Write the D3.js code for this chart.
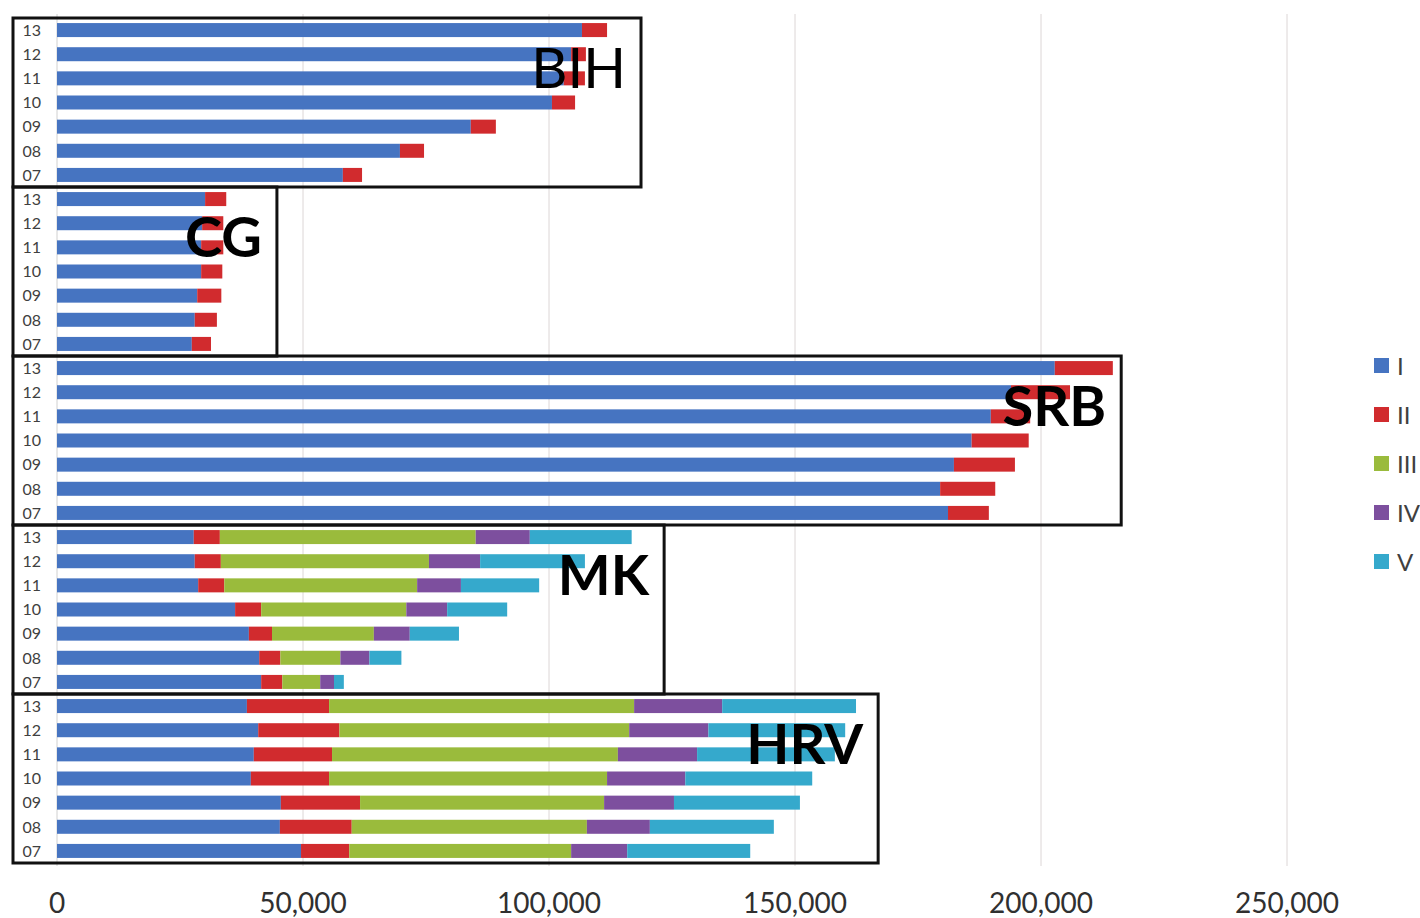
<!DOCTYPE html>
<html>
<head>
<meta charset="utf-8">
<script src="https://cdn.jsdelivr.net/npm/d3@7"></script>
<style>
  body { margin: 0; background: #fff; }
  svg { display: block; font-family: Lato, "Open Sans", sans-serif; }
</style>
</head>
<body>
<div id="chart"></div>
<script>
// data (rows go country by country, years 13 -> 07)
const countries = ["BIH", "CG", "SRB", "MK", "HRV"];
const years = ["13", "12", "11", "10", "09", "08", "07"];
const seriesNames = ["I", "II", "III", "IV", "V"];
const xTicks = [0, 50000, 100000, 150000, 200000, 250000];

const seriesI = [
  106700, 104500, 103000, 100600, 84100, 69700, 58100,   // BIH
  30100, 29500, 29300, 29300, 28500, 28000, 27400,       // CG
  202800, 193900, 189800, 185900, 182300, 179500, 181100, // SRB
  27800, 28000, 28700, 36200, 39000, 41100, 41500,       // MK
  38600, 40900, 40000, 39400, 45500, 45300, 49600        // HRV
];
const seriesII = [
  5100, 3000, 4300, 4700, 5100, 4900, 3900,
  4300, 4300, 4500, 4300, 4900, 4500, 3900,
  11800, 12000, 8000, 11600, 12400, 11200, 8300,
  5300, 5300, 5300, 5300, 4700, 4300, 4300,
  16700, 16500, 15900, 15900, 16100, 14600, 9800
];
const seriesIII = [
  0, 0, 0, 0, 0, 0, 0,
  0, 0, 0, 0, 0, 0, 0,
  0, 0, 0, 0, 0, 0, 0,
  52000, 42300, 39200, 29500, 20700, 12200, 7700,
  62000, 58900, 58100, 56500, 49600, 47800, 45100
];
const seriesIV = [
  0, 0, 0, 0, 0, 0, 0,
  0, 0, 0, 0, 0, 0, 0,
  0, 0, 0, 0, 0, 0, 0,
  11000, 10400, 8900, 8300, 7300, 5900, 2800,
  17900, 16100, 16100, 15900, 14200, 12800, 11400
];
const seriesV = [
  0, 0, 0, 0, 0, 0, 0,
  0, 0, 0, 0, 0, 0, 0,
  0, 0, 0, 0, 0, 0, 0,
  20700, 21300, 15900, 12200, 10000, 6500, 2000,
  27200, 27800, 28000, 25800, 25600, 25200, 25000
];
// how far each country's annotation box reaches on the x axis
const boxExtent = [118700, 44700, 216300, 123400, 166900];

const colors = ["#4674c1", "#d12b2e", "#9abb3c", "#7d4f9e", "#35a9cc"];

const width = 1420, height = 918;
const plotTop = 18, plotBottom = 863;

const svg = d3.select("#chart").append("svg")
  .attr("width", width)
  .attr("height", height);

// build rows
const allSeries = [seriesI, seriesII, seriesIII, seriesIV, seriesV];
const rows = [];
countries.forEach((c, ci) => {
  years.forEach((yr, yi) => {
    const idx = ci * years.length + yi;
    const row = {id: c + "-" + yr, country: c, year: yr};
    seriesNames.forEach((s, si) => { row[s] = allSeries[si][idx]; });
    rows.push(row);
  });
});

const x = d3.scaleLinear()
  .domain([0, 250000])
  .range([57, 1287]);

const y = d3.scaleBand()
  .domain(rows.map(d => d.id))
  .range([plotTop, plotBottom])
  .paddingInner(0.42)
  .paddingOuter(0.21);

const color = d3.scaleOrdinal().domain(seriesNames).range(colors);

// grid lines
svg.append("g")
  .selectAll("line")
  .data(xTicks.slice(1))
  .enter().append("line")
  .attr("x1", d => x(d)).attr("x2", d => x(d))
  .attr("y1", 14).attr("y2", 866)
  .attr("stroke", "#dcd6d6")
  .attr("stroke-width", 1);

svg.append("line")
  .attr("x1", x(0)).attr("x2", x(0))
  .attr("y1", 14).attr("y2", 866)
  .attr("stroke", "#d0d0d0");

// stacked bars
const stack = d3.stack().keys(seriesNames);
svg.append("g")
  .selectAll("g")
  .data(stack(rows))
  .enter().append("g")
  .attr("fill", d => color(d.key))
  .selectAll("rect")
  .data(d => d.filter(p => p[1] > p[0]))
  .enter().append("rect")
  .attr("x", d => x(d[0]))
  .attr("y", d => y(d.data.id))
  .attr("width", d => x(d[1]) - x(d[0]))
  .attr("height", y.bandwidth());

// year labels
svg.append("g")
  .selectAll("text")
  .data(rows)
  .enter().append("text")
  .attr("x", 41)
  .attr("y", d => y(d.id) + y.bandwidth() / 2)
  .attr("dy", "0.36em")
  .attr("text-anchor", "end")
  .attr("font-size", 16)
  .attr("fill", "#404040")
  .text(d => d.year);

// country boxes and labels
const step = y.step();
const boxes = svg.append("g");
countries.forEach((c, ci) => {
  const first = rows[ci * years.length].id;
  const top = y(first) - (step - y.bandwidth()) / 2;
  const bottom = top + step * years.length;
  boxes.append("rect")
    .attr("x", 13)
    .attr("y", top)
    .attr("width", x(boxExtent[ci]) - 13)
    .attr("height", bottom - top)
    .attr("fill", "none")
    .attr("stroke", "#111")
    .attr("stroke-width", 3);
  const labelRow = rows[ci * years.length + 2].id;
  boxes.append("text")
    .attr("x", x(boxExtent[ci]) - 15)
    .attr("y", y(labelRow) + y.bandwidth() / 2 + 10)
    .attr("text-anchor", "end")
    .attr("font-size", 56)
    .attr("font-weight", c === "BIH" ? "normal" : "bold")
    .attr("fill", "#000")
    .text(c);
});

// x axis labels
svg.append("g")
  .selectAll("text")
  .data(xTicks)
  .enter().append("text")
  .attr("x", d => x(d))
  .attr("y", 913)
  .attr("text-anchor", "middle")
  .attr("font-size", 28)
  .attr("fill", "#303030")
  .text(d => d3.format(",")(d));

// legend
const legend = svg.append("g")
  .selectAll("g")
  .data(seriesNames)
  .enter().append("g")
  .attr("transform", (d, i) => "translate(1374," + (366 + i * 49) + ")");

legend.append("rect")
  .attr("x", 0).attr("y", -8)
  .attr("width", 15).attr("height", 15)
  .attr("fill", d => color(d));

legend.append("text")
  .attr("x", 23)
  .attr("y", 0)
  .attr("dy", "0.36em")
  .attr("font-size", 24)
  .attr("fill", "#404040")
  .text(d => d);
</script>
</body>
</html>
